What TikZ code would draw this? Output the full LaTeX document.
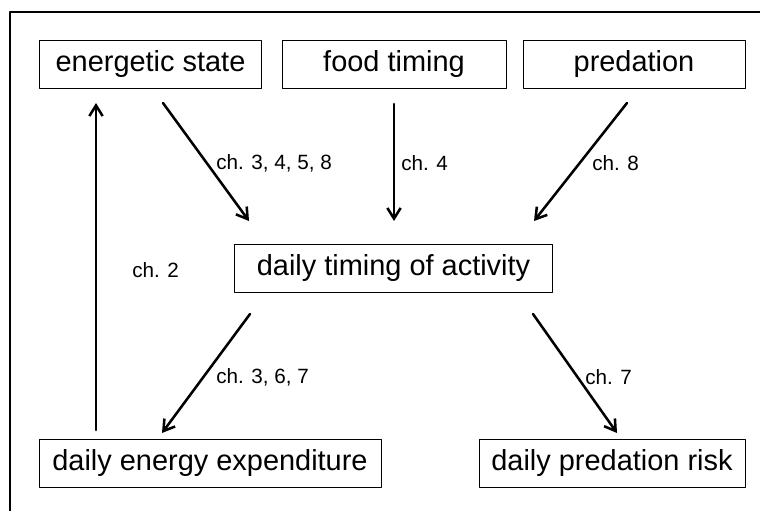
\documentclass[tikz,border=0pt]{standalone}
\usepackage{fontspec}
\setmainfont{Liberation Sans}
\usetikzlibrary{arrows.meta}

\begin{document}
\begin{tikzpicture}[line cap=round,line join=round,>={Straight Barb[length=8pt,width=10pt]},x=0.75pt,y=-0.75pt,
  box/.style={draw,line width=0.7pt,inner sep=0pt,minimum height=36pt,font=\fontsize{21.7}{24}\selectfont},
  link/.style={->,line width=1.9pt},
  chap/.style={anchor=west,inner sep=0pt,font=\fontsize{15.5}{18}\selectfont}]
\useasboundingbox (0,0) rectangle (760,511);
\draw [line width=2pt,line cap=butt] (10,511)-- (10,12)-- (760,12);
% boxes
\node[box,minimum width=167pt] (energy) at (150.5,64) {energetic state};
\node[box,minimum width=168pt] (food) at (394,64) {food timing};
\node[box,minimum width=166.5pt] (pred) at (634,64) {predation};
\node[box,minimum width=238pt] (timing) at (393.5,268.5) {daily timing of activity};
\node[box,minimum width=256.5pt] (expend) at (210,463.5) {daily energy expenditure};
\node[box,minimum width=199.5pt] (risk) at (612,463.5) {daily predation risk};
% arrow ends
\coordinate (energyout) at (163,103);
\coordinate (foodout) at (394,104);
\coordinate (predout) at (627,103);
\coordinate (timingin1) at (249,221);
\coordinate (timingin2) at (394,221);
\coordinate (timingin3) at (534,221);
\coordinate (timingout1) at (250,314);
\coordinate (timingout2) at (533,314);
\coordinate (expendin) at (162,433);
\coordinate (riskin) at (617,433);
\coordinate (expendout) at (96,430);
\coordinate (energyin) at (96,103);
\draw [link] (energyout)-- (timingin1);
\draw [link] (foodout)-- (timingin2);
\draw [link] (predout)-- (timingin3);
\draw [link] (timingout1)-- (expendin);
\draw [link] (timingout2)-- (riskin);
\draw [link] (expendout)-- (energyin);
% chapter labels
\node[chap] (ch3458) at (216,163) {ch. 3, 4, 5, 8};
\node[chap] (ch4) at (401,163) {ch. 4};
\node[chap] (ch8) at (592,163) {ch. 8};
\node[chap] (ch2) at (132,270) {ch. 2};
\node[chap] (ch367) at (216,377) {ch. 3, 6, 7};
\node[chap] (ch7) at (585,377) {ch. 7};
\end{tikzpicture}
\end{document}
